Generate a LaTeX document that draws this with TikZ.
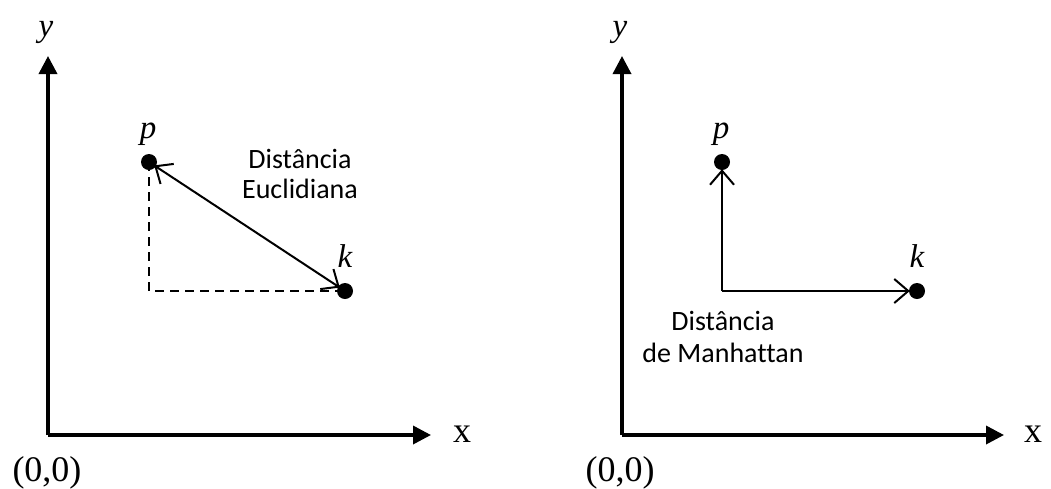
\documentclass[tikz,border=0pt]{standalone}
\usepackage{fontspec}
\setsansfont{Carlito}[Ligatures=NoCommon]
\setmainfont{Liberation Serif}
\usetikzlibrary{arrows.meta}
\begin{document}
\begin{tikzpicture}[x=1pt,y=-1pt,
  axis/.style={line width=3.5pt,-{Triangle[length=18pt,width=18pt]}},
  conn/.style={line width=2pt},
  barbtip/.tip={Straight Barb[length=14pt,width=24pt,line width=2pt]},
  dot/.style={circle,fill=black,inner sep=0pt,minimum size=16pt},
  lbl/.style={font=\fontsize{36}{40}\selectfont,anchor=base,inner sep=0pt},
  var/.style={font=\itshape\fontsize{33}{36}\selectfont,anchor=base,inner sep=0pt},
  note/.style={font=\sffamily\fontsize{28}{30}\selectfont,anchor=base,inner sep=0pt}]
\useasboundingbox (0,0) rectangle (1051,488);
% left panel
\coordinate (o1) at (48,435);
\coordinate (ytop1) at (48,56);
\coordinate (xend1) at (431,435);
\draw[axis] (o1) -- (ytop1);
\draw[axis] (o1) -- (xend1);
\node[var] (ylab1) at (46,36) {y};
\node[lbl] (xlab1) at (462,442) {x};
\node[lbl] (orig1) at (47,481) {(0,0)};
\node[dot] (p1) at (149,162) {};
\node[dot] (k1) at (345,291) {};
\node[var] (plab1) at (148,138) {p};
\node[var] (klab1) at (345,267) {k};
\coordinate (c1) at (149,291);
\draw[conn,line width=2.3pt,dash pattern=on 9pt off 6pt] (p1.center) -- (c1) -- (k1.center);
\draw[conn,barbtip-barbtip,shorten <=-2pt,shorten >=-2pt] (p1) -- (k1);
\node[note] (eu1) at (300,168) {Distância};
\node[note] (eu2) at (300,198) {Euclidiana};
% right panel
\coordinate (o2) at (622,435);
\coordinate (ytop2) at (622,56);
\coordinate (xend2) at (1004,435);
\draw[axis] (o2) -- (ytop2);
\draw[axis] (o2) -- (xend2);
\node[var] (ylab2) at (620,36) {y};
\node[lbl] (xlab2) at (1033,442) {x};
\node[lbl] (orig2) at (620,481) {(0,0)};
\node[dot] (p2) at (722,162) {};
\node[dot] (k2) at (917,291) {};
\node[var] (plab2) at (721,138) {p};
\node[var] (klab2) at (917,267) {k};
\coordinate (c2) at (722,291);
\draw[conn,-barbtip,shorten >=-1pt] (c2) -- (p2);
\draw[conn,-barbtip,shorten >=-1pt] (c2) -- (k2);
\node[note] (mh1) at (723,330) {Distância};
\node[note] (mh2) at (723,362) {de Manhattan};
\end{tikzpicture}
\end{document}
